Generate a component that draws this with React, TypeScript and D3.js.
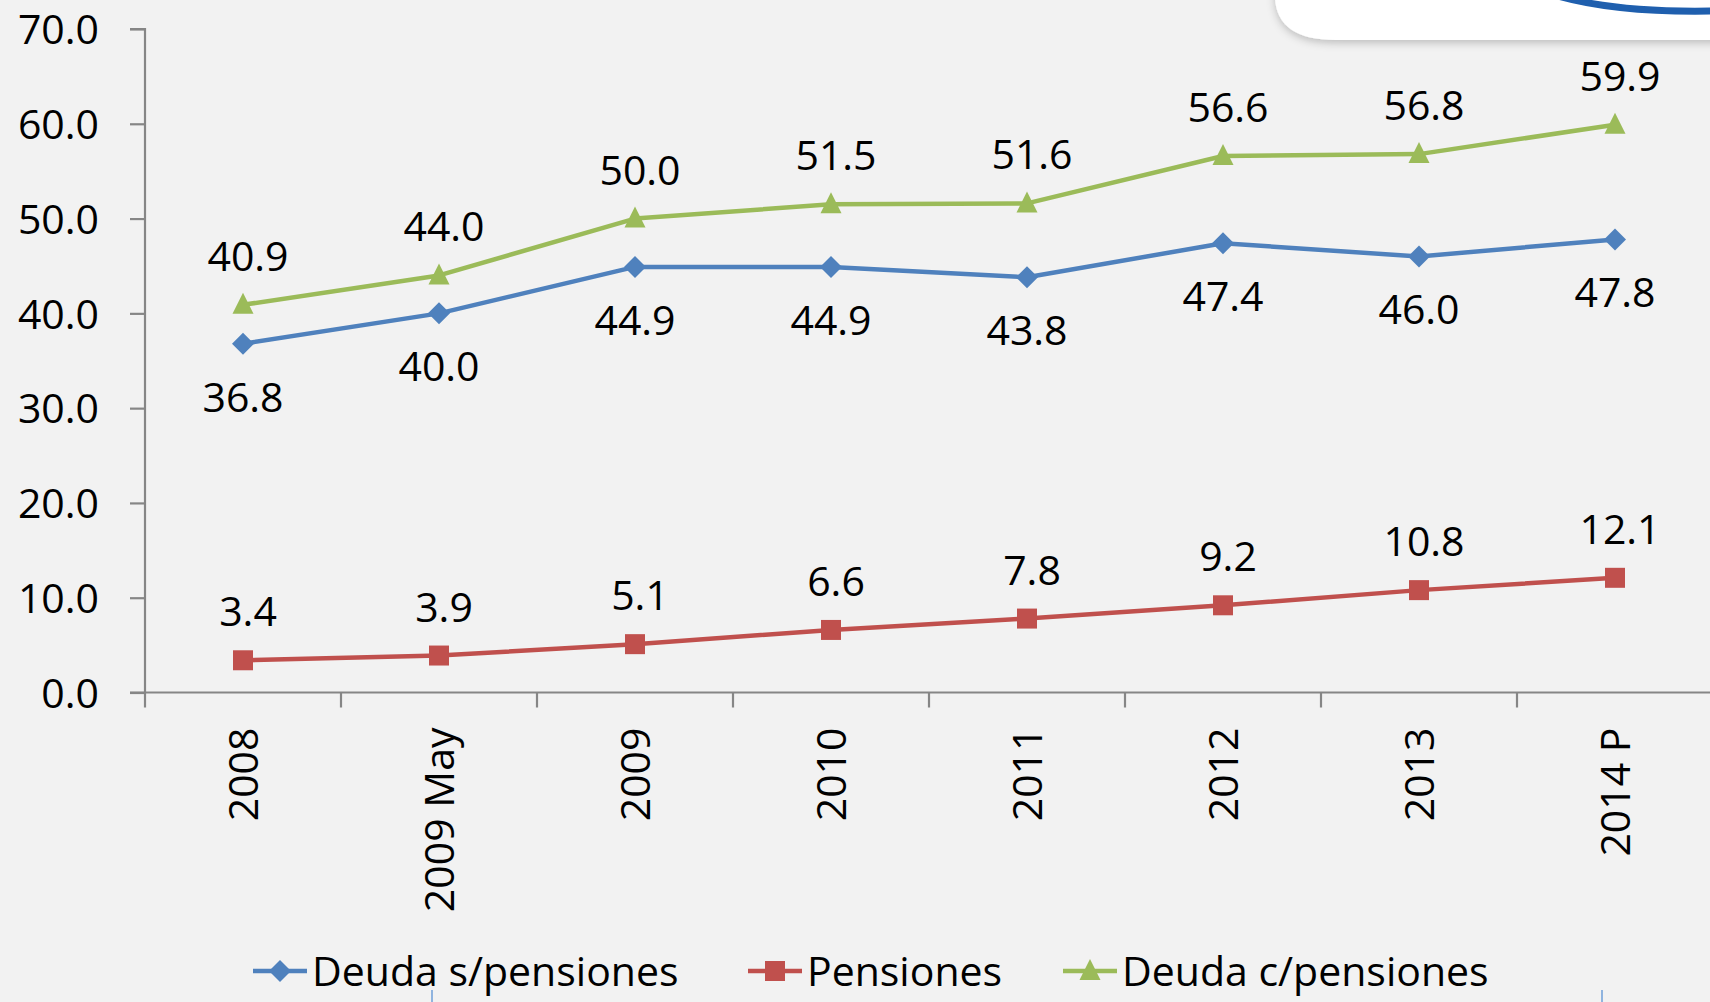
import React, { useEffect, useRef } from 'react';
import * as d3 from 'd3';

const categories = ['2008', '2009 May', '2009', '2010', '2011', '2012', '2013', '2014 P'];
const deudaSin = [36.8, 40.0, 44.9, 44.9, 43.8, 47.4, 46.0, 47.8];
const pensiones = [3.4, 3.9, 5.1, 6.6, 7.8, 9.2, 10.8, 12.1];
const deudaCon = [40.9, 44.0, 50.0, 51.5, 51.6, 56.6, 56.8, 59.9];
const yTicks = [0, 10, 20, 30, 40, 50, 60, 70];

interface Series {
  name: string;
  values: number[];
  color: string;
  marker: 'diamond' | 'square' | 'triangle';
  labelPos: 'above' | 'below';
}

const series: Series[] = [
  { name: 'Deuda s/pensiones', values: deudaSin, color: '#4f81bd', marker: 'diamond', labelPos: 'below' },
  { name: 'Pensiones', values: pensiones, color: '#c0504d', marker: 'square', labelPos: 'above' },
  { name: 'Deuda c/pensiones', values: deudaCon, color: '#9bbb59', marker: 'triangle', labelPos: 'above' },
];

const W = 1710;
const H = 1002;
const FONT = '"Open Sans", sans-serif';

function markerPath(kind: Series['marker']) {
  if (kind === 'diamond') return 'M0,-11L11,0L0,11L-11,0Z';
  if (kind === 'square') return 'M-10,-10H10V10H-10Z';
  return 'M0,-12L10.5,9L-10.5,9Z';
}

export default function App() {
  const svgRef = useRef<SVGSVGElement>(null);

  useEffect(() => {
    document.body.style.margin = '0';
    document.body.style.overflow = 'hidden';
    if (!svgRef.current) return;

    const svg = d3.select(svgRef.current);
    svg.selectAll('*').remove();

    const x = d3.scaleBand().domain(categories).range([145, 1713]).padding(0);
    const y = d3.scaleLinear().domain([0, 70]).range([692.5, 29]);
    const cx = (c: string) => (x(c) || 0) + x.bandwidth() / 2;

    svg.append('rect').attr('width', W).attr('height', H).attr('fill', '#f2f2f2');

    // decorative card in the top-right corner
    const defs = svg.append('defs');
    const f = defs.append('filter').attr('id', 'sh').attr('x', '-10%').attr('y', '-50%').attr('width', '130%').attr('height', '250%');
    f.append('feDropShadow').attr('dx', 0).attr('dy', 3).attr('stdDeviation', 4).attr('flood-color', '#000').attr('flood-opacity', 0.22);
    svg.append('path')
      .attr('d', 'M1275,-20 L1275,-2 Q1277,40 1336,40 L1730,40 L1730,-20 Z')
      .attr('fill', '#ffffff')
      .attr('filter', 'url(#sh)');
    svg.append('path')
      .attr('d', 'M1558,-4 Q1618,13 1715,11')
      .attr('fill', 'none')
      .attr('stroke', '#1f5fae')
      .attr('stroke-width', 7);

    // y axis
    const yAxis = svg.append('g').attr('transform', 'translate(145,0)')
      .call(d3.axisLeft(y).tickValues(yTicks).tickSize(15).tickPadding(31).tickFormat(d => d3.format('.1f')(d as number)));
    yAxis.select('.domain').attr('stroke', '#868686').attr('stroke-width', 2.2).attr('d', `M-15,${y(70)}H0V${y(0)}`);
    yAxis.selectAll('.tick line').attr('stroke', '#868686').attr('stroke-width', 2.2);
    yAxis.selectAll('.tick text')
      .attr('font-family', FONT).attr('font-size', 41).attr('fill', '#000').attr('dy', '0.36em');

    // x axis
    const xAxis = svg.append('g').attr('transform', `translate(0,${y(0)})`);
    xAxis.append('line').attr('x1', 130).attr('x2', W).attr('stroke', '#868686').attr('stroke-width', 2.2);
    xAxis.selectAll('line.tk')
      .data(d3.range(categories.length + 1))
      .join('line')
      .attr('class', 'tk')
      .attr('x1', i => 145 + i * x.step())
      .attr('x2', i => 145 + i * x.step())
      .attr('y1', 0).attr('y2', 15)
      .attr('stroke', '#868686').attr('stroke-width', 2.2);
    xAxis.selectAll('text')
      .data(categories)
      .join('text')
      .attr('transform', d => `translate(${cx(d)},35) rotate(-90)`)
      .attr('text-anchor', 'end')
      .attr('dy', '0.36em')
      .attr('font-family', FONT).attr('font-size', 41).attr('fill', '#000')
      .text(d => d);

    // lines, markers, labels
    series.forEach(s => {
      const line = d3.line<number>().x((_, i) => cx(categories[i])).y(v => y(v));
      svg.append('path')
        .attr('d', line(s.values) || '')
        .attr('fill', 'none')
        .attr('stroke', s.color)
        .attr('stroke-width', 4.5)
        .attr('stroke-linejoin', 'round');
      const mp = markerPath(s.marker);
      svg.append('g').selectAll('path')
        .data(s.values)
        .join('path')
        .attr('d', mp)
        .attr('transform', (v, i) => `translate(${cx(categories[i])},${y(v)})`)
        .attr('fill', s.color);
      svg.append('g').selectAll('text')
        .data(s.values)
        .join('text')
        .attr('x', (v, i) => cx(categories[i]) + (s.labelPos === 'above' ? 5 : 0))
        .attr('y', v => y(v) + (s.labelPos === 'above' ? -34 : 68))
        .attr('text-anchor', 'middle')
        .attr('font-family', FONT).attr('font-size', 41).attr('fill', '#000')
        .text(v => d3.format('.1f')(v));
    });

    // legend
    const legendX = [253, 748, 1063];
    const legend = svg.append('g').attr('transform', 'translate(0,971)');
    series.forEach((s, i) => {
      const g = legend.append('g').attr('transform', `translate(${legendX[i]},0)`);
      g.append('line').attr('x1', 0).attr('x2', 54).attr('stroke', s.color).attr('stroke-width', 4.5);
      g.append('path').attr('d', markerPath(s.marker)).attr('transform', 'translate(27,0)').attr('fill', s.color);
      g.append('text')
        .attr('x', 59).attr('dy', '0.36em')
        .attr('font-family', FONT).attr('font-size', 41).attr('fill', '#000')
        .text(s.name);
    });

    // thin blue marks at the bottom edge
    svg.append('g').selectAll('line')
      .data([432, 1602])
      .join('line')
      .attr('x1', d => d).attr('x2', d => d)
      .attr('y1', 990).attr('y2', H)
      .attr('stroke', '#6f9fd8').attr('stroke-width', 1.5);
  }, []);

  return <svg ref={svgRef} width={W} height={H} style={{ display: 'block' }} />;
}
